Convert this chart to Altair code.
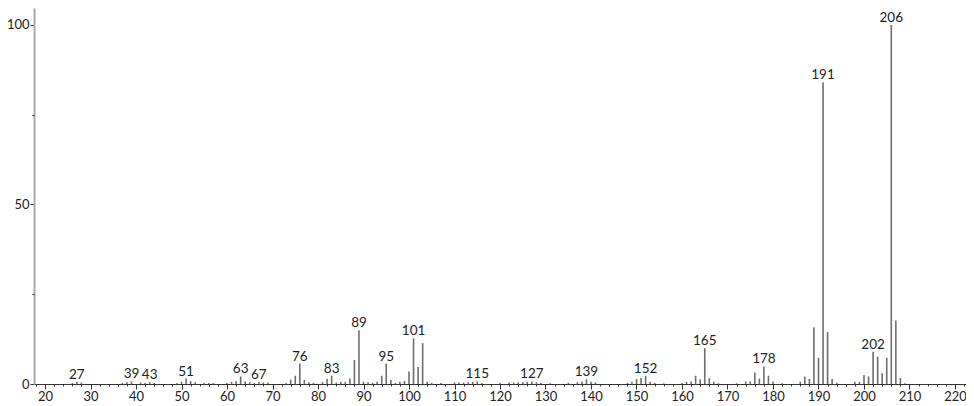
import altair as alt
import pandas as pd

mz = [26, 27, 28, 37, 38, 39, 41, 42, 43, 44, 49, 50, 51, 52, 53, 55, 56, 57,
      60, 61, 62, 63, 64, 65, 66, 67, 68, 69, 73, 74, 75, 76, 77, 78, 79,
      81, 82, 83, 84, 85, 86, 87, 88, 89, 90, 91, 92, 93, 94, 95, 96, 97,
      98, 99, 100, 101, 102, 103, 104, 105, 107, 110, 111, 112, 113, 114,
      115, 116, 120, 122, 123, 124, 125, 126, 127, 128, 129, 131, 135, 137,
      138, 139, 140, 141, 148, 149, 150, 151, 152, 153, 154, 156, 160, 161,
      162, 163, 164, 165, 166, 167, 168, 172, 174, 175, 176, 177, 178, 179,
      180, 182, 186, 187, 188, 189, 190, 191, 192, 193, 194, 198, 199, 200,
      201, 202, 203, 204, 205, 206, 207, 208, 209]
intensity = [0.3, 0.6, 0.4, 0.3, 0.5, 0.7, 0.4, 0.3, 0.5, 0.3, 0.3, 0.6, 1.5,
             0.8, 0.5, 0.3, 0.3, 0.3,
             0.3, 0.6, 0.8, 2.1, 0.7, 0.5, 0.3, 0.5, 0.4, 0.4, 0.3, 1.2, 2.3,
             5.7, 1.1, 0.5, 0.3,
             0.5, 1.4, 2.3, 0.4, 0.6, 0.6, 1.5, 6.7, 15.0, 0.6, 0.5, 0.3, 0.6,
             2.3, 5.7, 1.1, 0.3,
             0.6, 0.8, 3.5, 12.7, 4.7, 11.4, 0.6, 0.3, 0.3, 0.4, 0.4, 0.4, 0.5,
             0.6,
             0.7, 0.3, 0.3, 0.4, 0.4, 0.5, 0.5, 0.6, 0.7, 0.5, 0.3, 0.2, 0.3,
             0.5,
             0.7, 1.3, 0.6, 0.4, 0.3, 0.6, 1.4, 1.7, 2.3, 0.6, 0.3, 0.2, 0.3,
             0.6,
             0.7, 2.3, 1.3, 10.0, 1.6, 0.6, 0.2, 0.2, 0.7, 0.7, 3.2, 1.5, 4.9,
             2.3,
             0.7, 0.2, 0.6, 2.1, 1.4, 15.8, 7.3, 84.0, 14.5, 1.4, 0.3, 0.6, 0.6,
             2.5,
             2.1, 9.0, 7.6, 3.0, 7.3, 100.0, 17.7, 1.7, 0.2]

labeled_mz = [27, 39, 43, 51, 63, 67, 76, 83, 89, 95, 101, 115, 127, 139,
              152, 165, 178, 191, 202, 206]

x_major = list(range(20, 221, 10))
x_minor = list(range(18, 223, 2))
y_major = [0, 50, 100]
y_minor = [25, 75]

peaks = pd.DataFrame({"mz": mz, "intensity": intensity})
lookup = dict(zip(mz, intensity))
labels = pd.DataFrame({"mz": labeled_mz,
                       "intensity": [lookup[m] for m in labeled_mz],
                       "text": [str(m) for m in labeled_mz]})

FONT = "Lato"
xscale = alt.Scale(domain=[17.58, 222.42], nice=False, zero=False)
yscale = alt.Scale(domain=[0, 104.7], nice=False)

x_axis_major = alt.Axis(values=x_major, orient="bottom", grid=False,
                        domainColor="#333333", domainWidth=1,
                        tickColor="#333333", tickSize=5, labelPadding=1,
                        labelFont=FONT, labelFontSize=13, labelColor="#222222",
                        title=None)
y_axis_major = alt.Axis(values=y_major, orient="left", grid=False,
                        domainColor="#aaaaaa", domainWidth=2,
                        tickColor="#333333", tickSize=4, labelPadding=1,
                        labelFont=FONT, labelFontSize=13, labelColor="#222222",
                        title=None)

rules = alt.Chart(peaks).mark_rule(color="#6e6e6e", strokeWidth=1.6).encode(
    x=alt.X("mz:Q", scale=xscale, axis=x_axis_major),
    y=alt.Y("intensity:Q", scale=yscale, axis=y_axis_major),
    y2=alt.datum(0),
)

text = alt.Chart(labels).mark_text(
    font=FONT, fontSize=13.5, color="#222222", baseline="alphabetic", dy=-3
).encode(
    x=alt.X("mz:Q", scale=xscale, axis=None),
    y=alt.Y("intensity:Q", scale=yscale, axis=None),
    text="text:N",
)

minor_df = pd.DataFrame({"mz": [x_minor[1]], "intensity": [0]})
minor = alt.Chart(minor_df).mark_point(opacity=0).encode(
    x=alt.X("mz:Q", scale=xscale,
            axis=alt.Axis(values=x_minor, orient="bottom", grid=False,
                          labels=False, domain=False, tickColor="#333333",
                          tickSize=2, title=None)),
    y=alt.Y("intensity:Q", scale=yscale,
            axis=alt.Axis(values=y_minor, orient="left", grid=False,
                          labels=False, domain=False, tickColor="#333333",
                          tickSize=2, title=None)),
)

chart = alt.layer(rules, text, minor).resolve_axis(
    x="independent", y="independent"
).properties(
    width=932, height=376,
    autosize=alt.AutoSizeParams(type="none"),
    padding={"left": 26, "top": 0, "right": 0, "bottom": 22},
).configure_view(stroke=None)

chart.save("out.html", embed_options={"renderer": "svg", "actions": False})
